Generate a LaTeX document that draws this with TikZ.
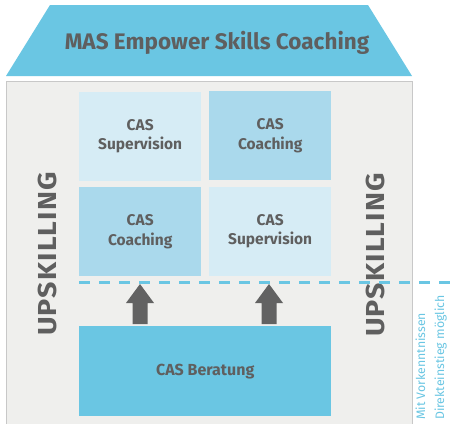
\documentclass[tikz,border=0pt]{standalone}
\usepackage{fontspec}
\setmainfont{Fira Sans}
\newfontfamily\upskfont{Fira Sans}[LetterSpace=4]
\definecolor{roofblue}{HTML}{6AC6E3}
\definecolor{lightbox}{HTML}{D6ECF5}
\definecolor{midbox}{HTML}{AAD9EC}
\definecolor{txtgray}{HTML}{5F5F5F}
\definecolor{bodyfill}{HTML}{EFEFED}
\definecolor{bodyline}{HTML}{C8C8C8}
\definecolor{arrowgray}{HTML}{626262}
\newcommand{\upskword}{\scalebox{1.1}[1]{\upskfont\fontsize{26}{26}\selectfont\bfseries UPSKILLING}}
\begin{document}
\begin{tikzpicture}[x=1pt,y=-1pt,
  cell/.style={draw=none,minimum width=122pt,minimum height=89pt,align=center,
    text=txtgray,font=\fontsize{15.5}{19.5}\selectfont\bfseries,inner sep=0pt},
  upsk/.style={text=txtgray,rotate=90,inner sep=0pt},
  sidenote/.style={text=roofblue,font=\fontsize{12.3}{12.3}\selectfont,rotate=90,inner sep=0pt,anchor=base west},
  blockarrow/.style={fill=arrowgray,draw=none}]
\useasboundingbox (0,0) rectangle (454,423);
\fill[white] (0,0) rectangle (454,423);
% body
\draw[fill=bodyfill,draw=bodyline,line width=1pt] (6,423.5) -- (6,81) -- (412,81) -- (412,423.5);
% roof
\fill[roofblue] (50,5) -- (368,5) -- (412,76) -- (6,76) -- cycle;
\node[text=txtgray,font=\fontsize{22.5}{22.5}\selectfont\bfseries] (title) at (217,43) {MAS Empower Skills Coaching};
% cells
\node[cell,fill=lightbox,anchor=north west] (c11) at (79,91.5) {CAS\\Supervision};
\node[cell,fill=midbox,anchor=north west] (c12) at (209,91) {CAS\\Coaching};
\node[cell,fill=midbox,anchor=north west] (c21) at (79,187) {CAS\\Coaching};
\node[cell,fill=lightbox,anchor=north west] (c22) at (209,186.5) {CAS\\Supervision};
% beratung
\node[fill=roofblue,minimum width=252pt,minimum height=90pt,anchor=north west,inner sep=0pt,
  text=txtgray,font=\fontsize{16}{20}\selectfont\bfseries] (ber) at (79,326) {CAS Beratung};
% arrows
\fill[blockarrow] (140,284) -- (154,303) -- (147.5,303) -- (147.5,324) -- (132.5,324) -- (132.5,303) -- (126,303) -- cycle;
\fill[blockarrow] (269,284) -- (283,303) -- (276.5,303) -- (276.5,324) -- (261.5,324) -- (261.5,303) -- (255,303) -- cycle;
% upskilling
\node[upsk] (upl) at (47.5,254) {\upskword};
\node[upsk] (upr) at (375,255) {\upskword};
% dashed line
\coordinate (dA) at (79,282);
\coordinate (dB) at (450,282);
\draw[roofblue,line width=3pt,dash pattern=on 11pt off 9pt] (dA) -- (dB);
% side notes
\node[sidenote] (n1) at (425,420) {Mit Vorkenntnissen};
\node[sidenote] (n2) at (444,420) {Direkteinstieg möglich};
\end{tikzpicture}
\end{document}
